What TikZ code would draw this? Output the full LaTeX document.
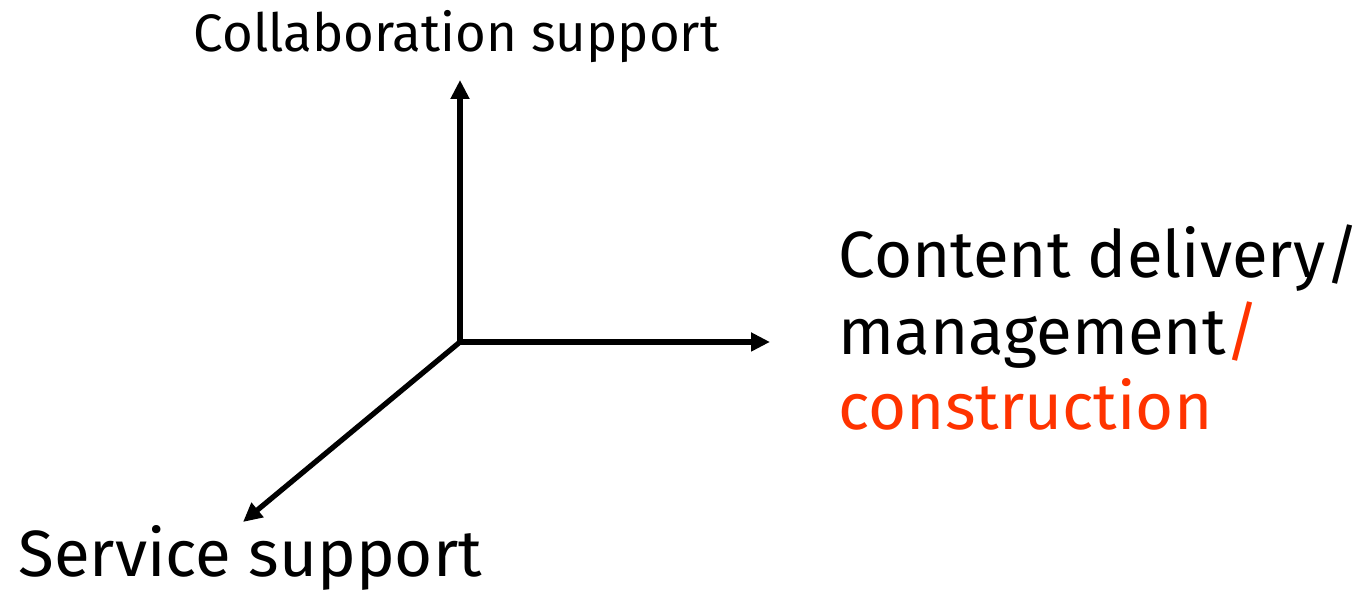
\documentclass[tikz,border=0pt]{standalone}
\usepackage{fontspec}
\setmainfont{Fira Sans}
\usepackage{tikz}
\usetikzlibrary{arrows.meta,positioning}
\definecolor{axisred}{RGB}{255,51,0}

\begin{document}
\begin{tikzpicture}[x=1cm,y=1cm,
	axis/.style={line width=1.5pt,-{Triangle[length=0.19cm,width=0.18cm]}},
	biglabel/.style={anchor=base west,inner sep=0pt,font=\fontsize{18.6}{22}\selectfont},
	smalllabel/.style={anchor=base west,inner sep=0pt,font=\fontsize{15}{18}\selectfont}]
	\useasboundingbox (0,0) rectangle (13.71,5.96);
	\coordinate (origin) at (4.60,2.54);
	\coordinate (up) at (4.60,5.16);
	\coordinate (right) at (7.70,2.54);
	\coordinate (down) at (2.43,0.74);
	\node[smalllabel] (collab) at (1.93,5.44) {Collaboration support};
	\node[biglabel] (content) at (8.38,3.18) {Content delivery/};
	\node[biglabel] (management) at (8.38,2.41) {management\textcolor{axisred}{/}};
	\node[biglabel,text=axisred] (construction) at (8.38,1.66) {construction};
	\node[biglabel] (service) at (0.18,0.19) {Service support};
	\draw[axis] (origin)--(up);
	\draw[axis] (origin)--(right);
	\draw[axis] (origin)--(down);
\end{tikzpicture}
\end{document}
